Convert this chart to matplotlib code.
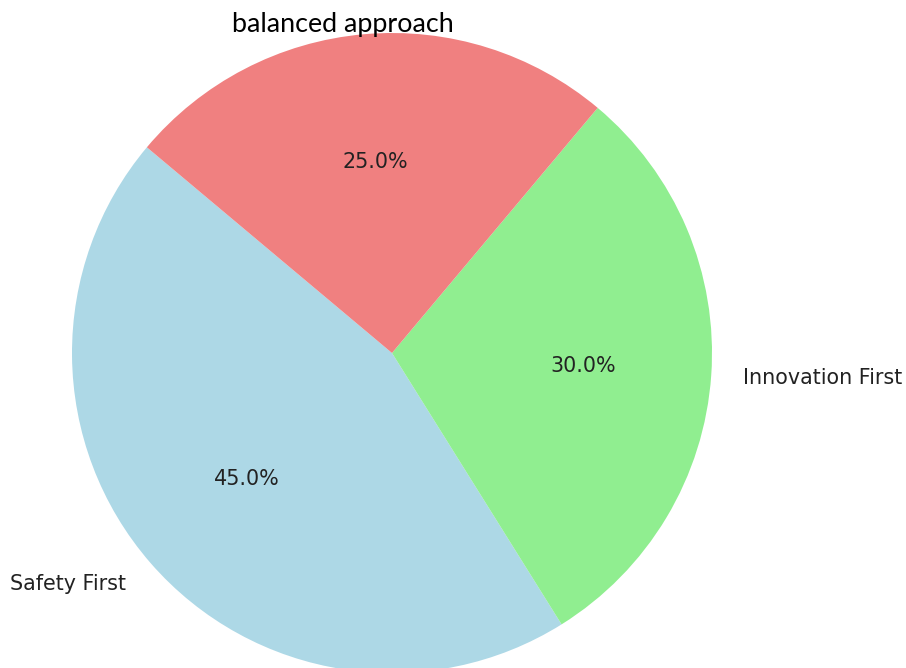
import matplotlib
matplotlib.use("Agg")
from matplotlib import pyplot as plt

labels = ['Safety First', 'Innovation First', '']
shares = [45, 30, 25]
colors = ['lightblue', 'lightgreen', 'lightcoral']
top_label = 'balanced approach'

fig = plt.figure(figsize=(9.06, 6.68), dpi=100)
ax = fig.add_axes([72 / 906, -5 / 668, 640 / 906, 640 / 668])

ax.pie(shares, labels=labels, colors=colors, autopct='%1.1f%%',
       startangle=140, textprops={'fontsize': 14.9, 'color': '#222222'})
ax.set_xlim(-1, 1)
ax.set_ylim(-1, 1)
ax.set_aspect('equal')

# the odd label on the red wedge sits on top in its own font
ax.text(-0.153, 1.028, top_label, ha='center', va='center',
        fontsize=19.4, family='Lato', color='black')

plt.savefig('out.png', dpi=100)
